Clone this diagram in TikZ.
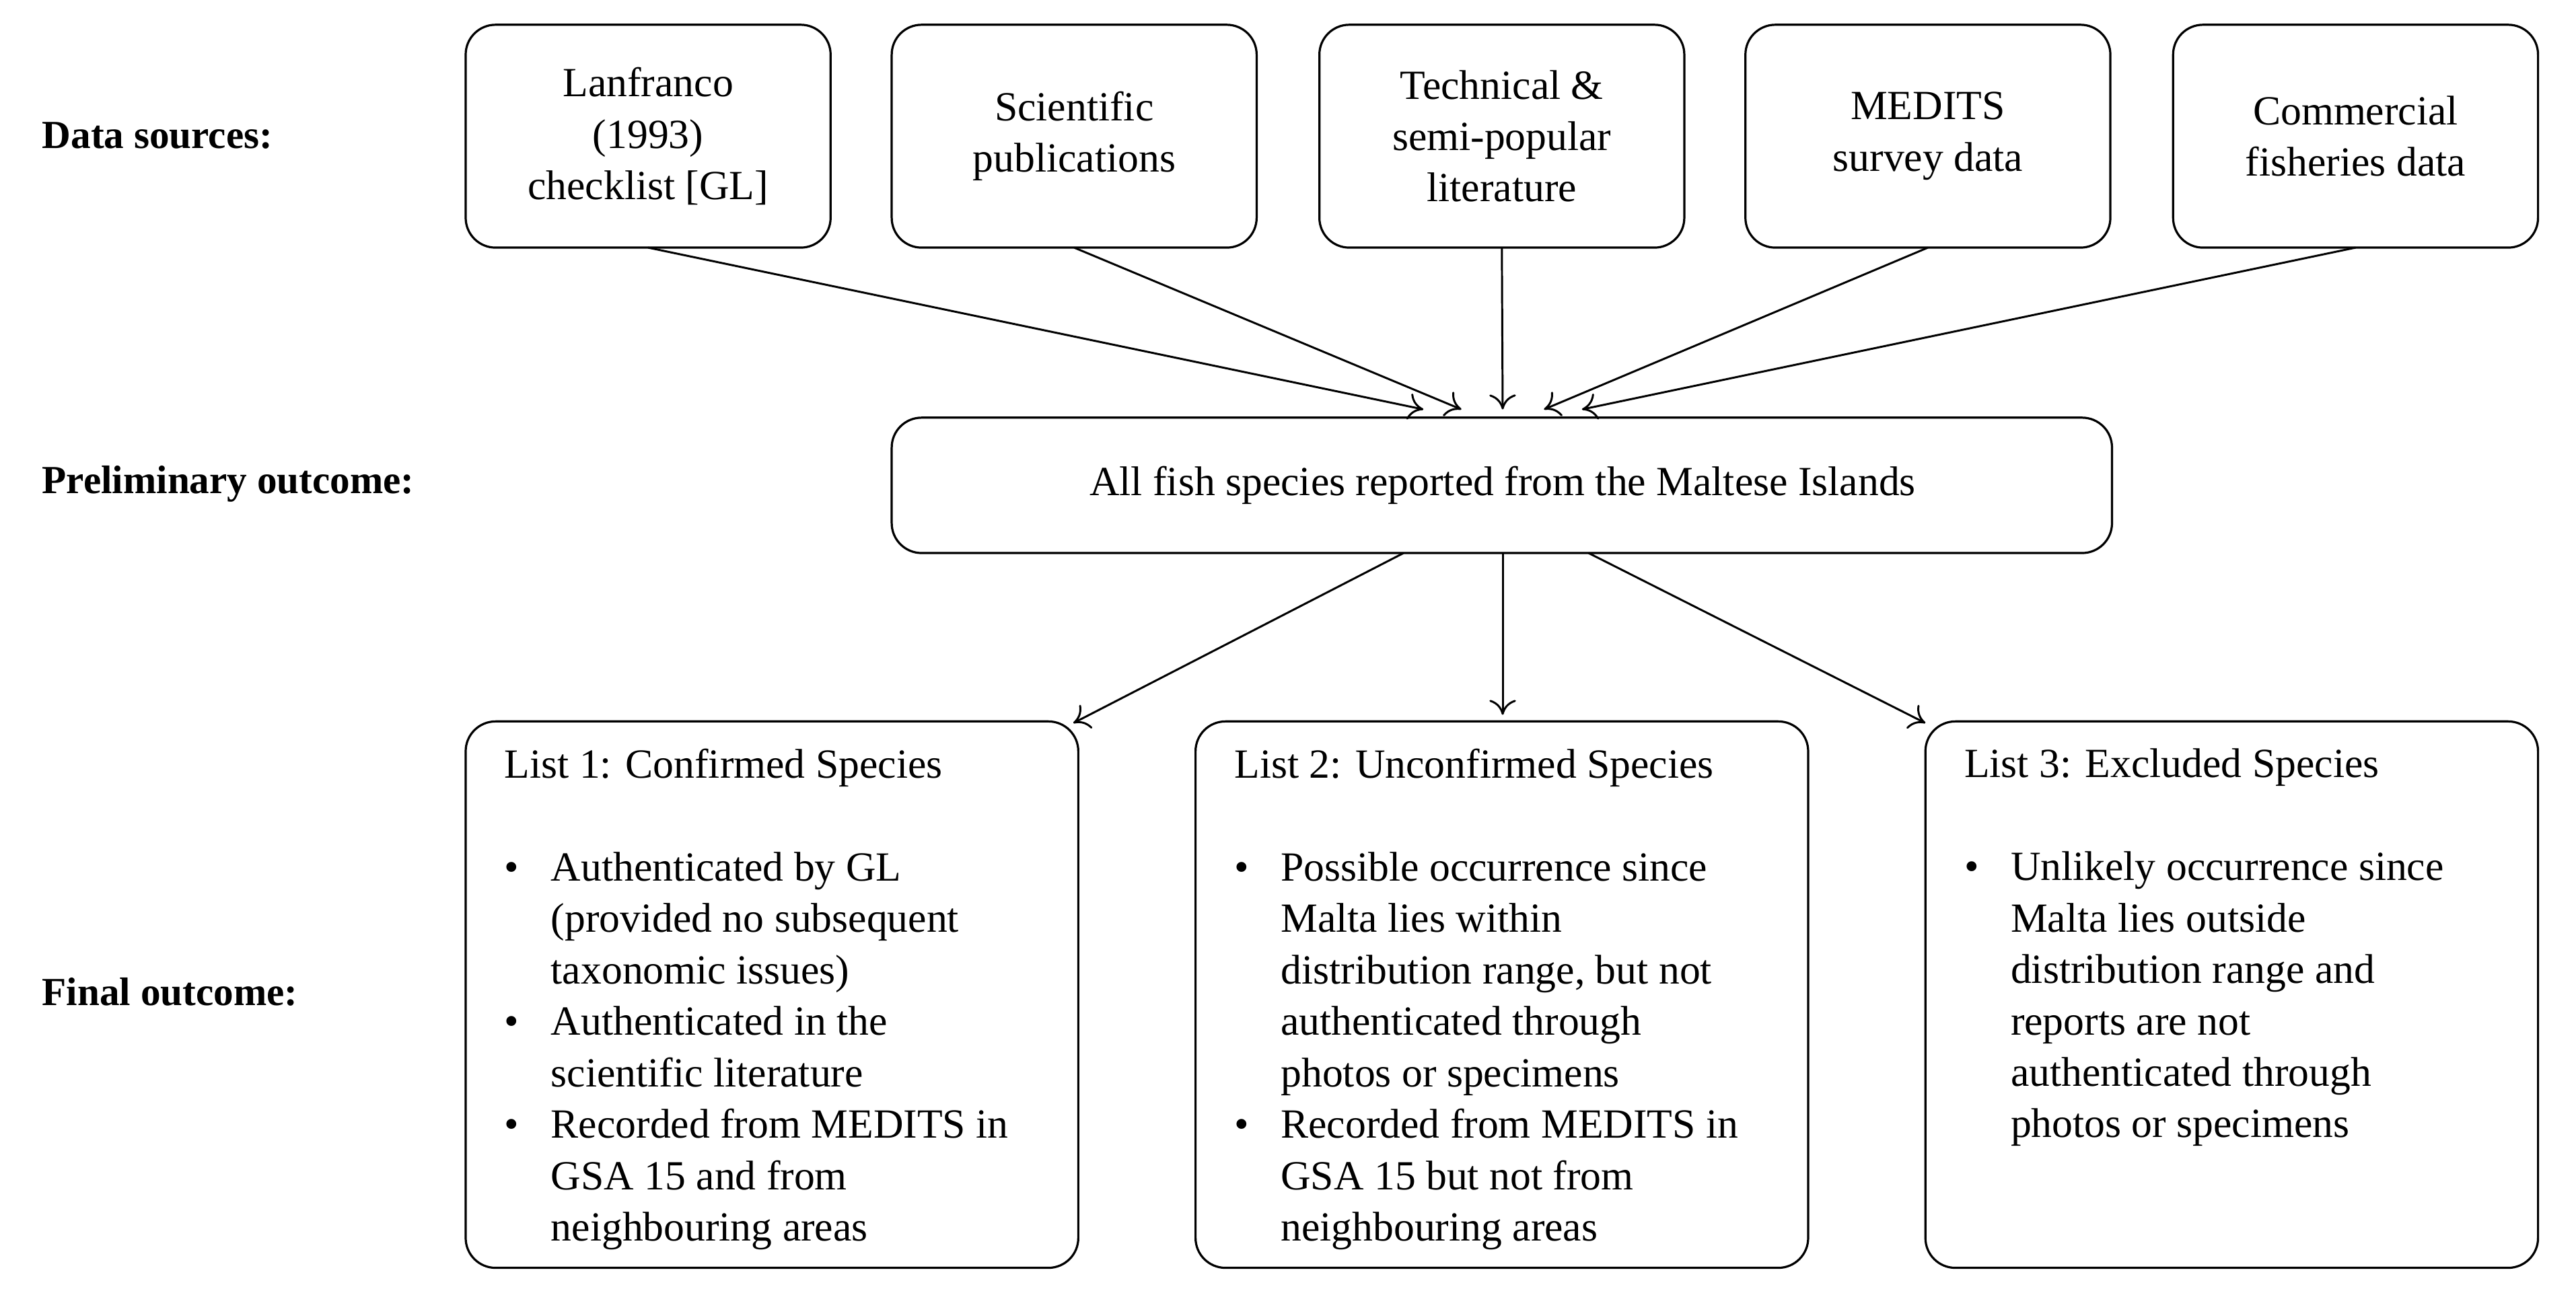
\documentclass[tikz,border=0pt]{standalone}
\usepackage{fontspec}
\usetikzlibrary{arrows.meta}
\setmainfont{Liberation Serif}
\begin{document}
\begin{tikzpicture}[x=0.995pt,y=-0.995pt,
 box/.style={draw,rounded corners=18pt,line width=1.3pt,inner sep=0pt},
 txt/.style={font=\fontsize{25}{31}\selectfont,align=center},
 lab/.style={font=\fontsize{24}{30}\selectfont\bfseries,anchor=west},
 arr/.style={-{To[length=9pt,width=16pt]},line width=1.2pt}]
\useasboundingbox (0,0) rectangle (1560,782);
\newcommand\bl{\makebox[28pt][l]{\textbullet}}
\newcommand\ind{\hspace*{28pt}}
% top boxes
\foreach \n/\xa/\t in {a/282/{Lanfranco\\(1993)\\checklist [GL]},b/540/{Scientific\\publications},c/799/{Technical \&\\semi-popular\\literature},d/1057/{MEDITS\\survey data},e/1316/{Commercial\\fisheries data}}{
 \draw[box] (\xa,15) rectangle (\xa+221,150);
 \node[txt] (\n) at (\xa+110.5,82.5) {\t};
 \coordinate (\n b) at (\xa+110.5,150);
}
\draw[box] (540,253) rectangle (1279,335);
\node[txt] (m) at (910,294) {All fish species reported from the Maltese Islands};
\coordinate (mb1) at (850,335); \coordinate (mb2) at (910,335); \coordinate (mb3) at (962,335);
\coordinate (t1) at (862,248); \coordinate (t2) at (885,248); \coordinate (t3) at (910,248); \coordinate (t4) at (935,248); \coordinate (t5) at (958,248);
\draw[arr] (ab) -- (t1); \draw[arr] (bb) -- (t2); \draw[arr] (cb) -- (t3); \draw[arr] (db) -- (t4); \draw[arr] (eb) -- (t5);
% bottom boxes
\draw[box] (282,437) rectangle (653,768);
\draw[box] (724,437) rectangle (1095,768);
\draw[box] (1166,437) rectangle (1537,768);
\coordinate (l1) at (650,438); \coordinate (l2) at (910,433); \coordinate (l3) at (1166,438);
\draw[arr] (mb1) -- (l1); \draw[arr] (mb2) -- (l2); \draw[arr] (mb3) -- (l3);
\node[txt,anchor=north west,align=left] (L1) at (302,450) {List 1: Confirmed Species\\[31pt]
\bl Authenticated by GL\\ \ind(provided no subsequent\\ \ind taxonomic issues)\\
\bl Authenticated in the\\ \ind scientific literature\\
\bl Recorded from MEDITS in\\ \ind GSA 15 and from\\ \ind neighbouring areas};
\node[txt,anchor=north west,align=left] (L2) at (744,450) {List 2: Unconfirmed Species\\[31pt]
\bl Possible occurrence since\\ \ind Malta lies within\\ \ind distribution range, but not\\ \ind authenticated through\\ \ind photos or specimens\\
\bl Recorded from MEDITS in\\ \ind GSA 15 but not from\\ \ind neighbouring areas};
\node[txt,anchor=north west,align=left] (L3) at (1186,450) {List 3: Excluded Species\\[31pt]
\bl Unlikely occurrence since\\ \ind Malta lies outside\\ \ind distribution range and\\ \ind reports are not\\ \ind authenticated through\\ \ind photos or specimens};
\node[lab] (s1) at (22,82) {Data sources:};
\node[lab] (s2) at (22,293) {Preliminary outcome:};
\node[lab] (s3) at (22,601) {Final outcome:};
\end{tikzpicture}
\end{document}
